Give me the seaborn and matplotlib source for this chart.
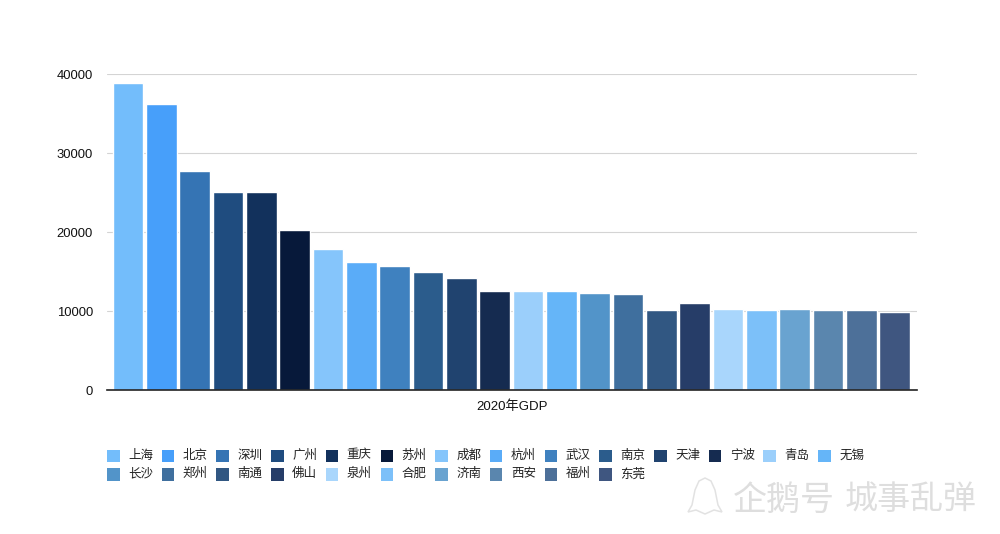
"""2020 GDP by city, bar chart."""

import matplotlib
matplotlib.use("Agg")

import matplotlib.pyplot as plt
import pandas as pd
import seaborn as sns
from matplotlib.patches import PathPatch, Rectangle
from matplotlib.path import Path

cities = ["上海", "北京", "深圳", "广州", "重庆", "苏州", "成都", "杭州", "武汉", "南京", "天津", "宁波",
          "青岛", "无锡", "长沙", "郑州", "南通", "佛山", "泉州", "合肥", "济南", "西安", "福州", "东莞"]
gdp = [38850, 36300, 27800, 25150, 25150, 20350, 17900, 16250, 15750, 14950, 14250, 12550,
       12550, 12550, 12300, 12150, 10200, 11050, 10300, 10200, 10350, 10200, 10200, 9850]
colors = ["#73bdfb", "#479ffa", "#3574b4", "#1f4c7f", "#12315c", "#07193a",
          "#85c5fb", "#5aacf8", "#3f81bf", "#2b5c8c", "#20436f", "#152b50",
          "#9bcffb", "#65b5f8", "#5294c9", "#3f6f9e", "#315782", "#263d68",
          "#a9d6fc", "#7cc0f9", "#69a3d0", "#5a86ae", "#4d7099", "#3f5680"]
y_ticks = [0, 10000, 20000, 30000, 40000]

W, H = 1000, 534


def fx(px):
    return px / W


def fy(px):
    return 1 - px / H


sns.set_theme(style="white")
plt.rcParams["font.family"] = ["Liberation Sans", "Noto Sans CJK SC"]

df = pd.DataFrame({"city": cities, "gdp": gdp})

fig = plt.figure(figsize=(10, 5.34), dpi=100)
ax = fig.add_axes([fx(107), fy(390.3), 810 / W, 316 / H])

sns.barplot(data=df, x="city", y="gdp", hue="city", palette=colors, hue_order=cities,
            width=0.92, dodge=False, saturation=1, legend=False, ax=ax)

ax.set_xlim(-0.63, 23.67)
ax.set_ylim(0, 40000)
ax.set_yticks(y_ticks)
ax.set_xticks([])
ax.tick_params(axis="y", labelsize=9.4, length=0, pad=10, labelcolor="#111111")
ax.grid(axis="y", color="#d4d4d4", linewidth=0.8)
ax.set_axisbelow(True)
sns.despine(ax=ax, left=True)
ax.spines["bottom"].set_color("#222222")
ax.spines["bottom"].set_linewidth(1.2)
ax.set_xlabel("2020年GDP", fontsize=9.5, color="#111111", labelpad=7)
ax.set_ylabel("")

# legend laid out by hand, matplotlib's jitters with CJK glyph descents
for i, (city, color) in enumerate(zip(cities, colors)):
    row, col = divmod(i, 14)
    x = 107 + col * 54.7
    y = 449.5 + row * 18.5
    fig.add_artist(Rectangle((fx(x), fy(y + 12.5)), 12.5 / W, 12.5 / H, facecolor=color,
                             edgecolor="none", transform=fig.transFigure))
    fig.text(fx(x + 21), fy(y + 6.2), city, fontsize=9, color="#222222", va="center", ha="left")

# watermark
fig.text(fx(733), fy(501), "企鹅号", fontsize=24.5, color="#dedede", va="center", ha="left")
fig.text(fx(845), fy(501), "城事乱弹", fontsize=23.8, color="#dedede", va="center", ha="left")
outline = [(692, 505), (695, 490), (699, 481), (705, 478), (711, 481), (715, 490), (718, 505),
           (722, 512), (714, 510), (705, 514), (696, 510), (688, 512), (692, 505)]
penguin = Path([(fx(px), fy(py)) for px, py in outline], closed=True)
fig.add_artist(PathPatch(penguin, fill=False, edgecolor="#e2e2e2", linewidth=1.1,
                         transform=fig.transFigure))

fig.savefig("out.png", dpi=100)
plt.close(fig)
